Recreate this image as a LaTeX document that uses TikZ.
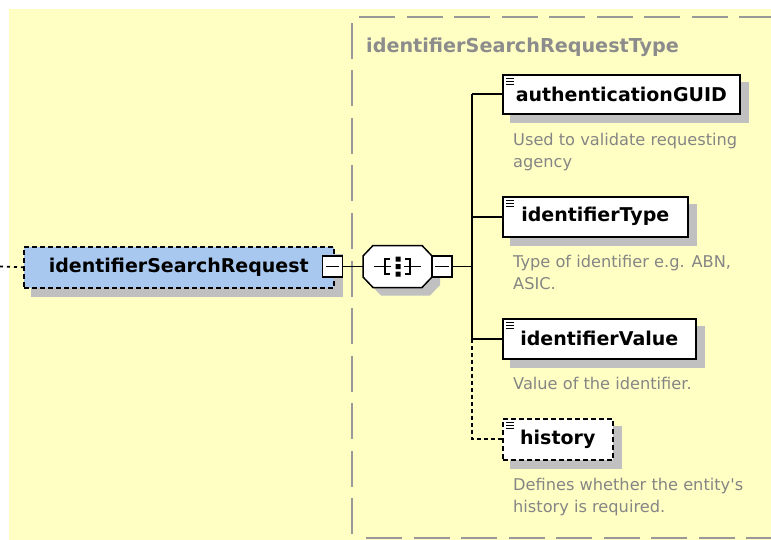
\documentclass[tikz,border=0pt]{standalone}
\usepackage{fontspec}
\setmainfont{DejaVu Sans}
\newfontfamily\djv{DejaVu Sans}
\definecolor{bgyellow}{HTML}{FFFFC4}
\definecolor{elemblue}{HTML}{A8C8F0}
\definecolor{boxgray}{HTML}{999999}
\definecolor{titlegray}{HTML}{8C8C8C}
\definecolor{descgray}{HTML}{858585}
\definecolor{shadowc}{HTML}{C0C0C0}
\pgfdeclarelayer{background}
\pgfsetlayers{background,main}
\begin{document}
\begin{tikzpicture}[x=1pt,y=-1pt,
  elem/.style={draw=black, line width=1.6pt, fill=white, font=\djv\bfseries\fontsize{19}{23}\selectfont, inner sep=0pt, anchor=north west},
  optdash/.style={dash pattern=on 5pt off 3pt},
  minusbox/.style={draw=black, line width=1.3pt, fill=white, minimum width=20pt, minimum height=21pt, inner sep=0pt},
  conn/.style={draw=black, line width=1.8pt},
  desc/.style={font=\djv\fontsize{16.2}{22}\selectfont, text=descgray, align=left, inner sep=0pt, anchor=base west},
  titletext/.style={font=\djv\bfseries\fontsize{19.2}{23}\selectfont, text=titlegray, inner sep=0pt, anchor=base west},
  contline/.style={draw=boxgray, line width=2pt, dash pattern=on 36pt off 11.5pt},
  icon/.style={draw=black, line width=0.9pt}
]
\useasboundingbox (0,0) rectangle (771,540);

% main element
\node[elem, optdash, fill=elemblue, minimum width=310pt, minimum height=41pt] (req) at (23,246) {identifierSearchRequest};
\node[minusbox] (reqm) at (332.5,266.5) {};
\draw[line width=1.2pt] ([xshift=4pt]reqm.west) -- ([xshift=-4pt]reqm.east);

% sequence compositor
\node[draw=none, minimum width=69pt, minimum height=42pt, inner sep=0pt] (seq) at (397.5,266.5) {};
\draw[line width=1.5pt, fill=white] (373,245.5) -- (422,245.5) -- (432,256) -- (432,277) -- (422,287.5) -- (373,287.5) -- (363,277) -- (363,256) -- cycle;
\draw[line width=1.3pt] (374,266.5) -- (391,266.5) (404,266.5) -- (421,266.5);
\draw[line width=1.3pt] (390,259) -- (385,259) -- (385,274) -- (390,274);
\draw[line width=1.3pt] (405,259) -- (410,259) -- (410,274) -- (405,274);
\fill[black] (395.5,256.5) rectangle (400.5,261.5) (395.5,264) rectangle (400.5,269) (395.5,271.5) rectangle (400.5,276.5);
\node[minusbox] (seqm) at (442,266.5) {};
\draw[line width=1.2pt] ([xshift=4pt]seqm.west) -- ([xshift=-4pt]seqm.east);
\coordinate (bus) at (472,266.5);
\coordinate (lead) at (0,266.5);

% container title
\node[titletext] (title) at (366,53) {identifierSearchRequestType};

% children
\node[elem, minimum width=237pt, minimum height=39pt] (a) at (502,74) {authenticationGUID};
\node[elem, minimum width=185pt, minimum height=40pt] (b) at (502,196) {identifierType};
\node[elem, minimum width=193pt, minimum height=40pt] (c) at (502,318) {identifierValue};
\node[elem, optdash, minimum width=110pt, minimum height=41pt] (d) at (502,418) {history};
\foreach \n in {a,b,c,d}{
  \foreach \dy in {4,7,10}{
    \draw[icon] ([xshift=4pt,yshift=-\dy pt]\n.north west) -- ++(8,0);
  }
}

% descriptions (base anchor = last line baseline)
\node[desc] (da) at (513,168) {Used to validate requesting\\agency};
\node[desc] (db) at (513,289) {Type of identifier e.g. ABN,\\ASIC.};
\node[desc] (dc) at (513,389) {Value of the identifier.};
\node[desc] (dd) at (513,512) {Defines whether the entity's\\history is required.};

\begin{pgfonlayer}{background}
  \fill[bgyellow] (9,9) rectangle (771,540);
  % container box
  \draw[contline] (359,17) -- (771,17);
  \draw[contline] (352,23) -- (352,540);
  \draw[contline] (366,538) -- (771,538);
  % connectors
  \draw[conn, dash pattern=on 3pt off 4pt] (lead) -- (req.west);
  \draw[conn] (reqm.east) -- (seq.west);
  \draw[conn] (seqm.east) -- (bus);
  \draw[conn] (bus |- a.west) -- (bus |- c.west);
  \draw[conn] (bus |- a.west) -- (a.west);
  \draw[conn] (bus |- b.west) -- (b.west);
  \draw[conn] (bus |- c.west) -- (c.west);
  \draw[conn, dash pattern=on 4pt off 3pt] (bus |- c.west) -- (bus |- d.west) -- (d.west);
  % shadows
  \foreach \n in {req,a,b,c,d}{
    \fill[shadowc] ([shift={(8,8)}]\n.north west) rectangle ([shift={(8,8)}]\n.south east);
  }
  \begin{scope}[shift={(8,8)}]
    \fill[shadowc] (373,245.5) -- (422,245.5) -- (432,256) -- (432,277) -- (422,287.5) -- (373,287.5) -- (363,277) -- (363,256) -- cycle;
  \end{scope}
\end{pgfonlayer}
\end{tikzpicture}
\end{document}
